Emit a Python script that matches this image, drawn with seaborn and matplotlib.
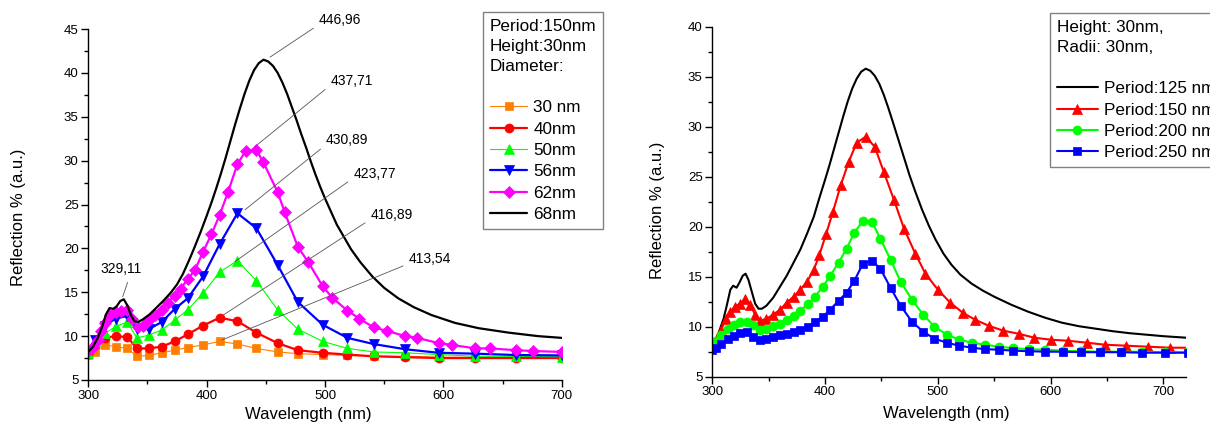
import seaborn as sns
import matplotlib.pyplot as plt
from matplotlib.ticker import MultipleLocator

# ---- left panel: Period 150nm, Height 30nm, varying diameter ----
wl_grid = [300, 306, 314, 323, 333, 341, 351, 362, 373, 384, 397, 411, 426, 442,
           460, 477, 498, 519, 541, 568, 596, 627, 661, 700]
r_30nm = [7.9, 8.2, 9.0, 8.8, 8.6, 7.7, 7.8, 8.1, 8.4, 8.7, 9.0, 9.4, 9.1, 8.6,
          8.2, 8.0, 7.9, 7.8, 7.7, 7.7, 7.6, 7.6, 7.6, 7.6]
r_40nm = [8.0, 9.0, 9.8, 10.0, 9.9, 8.6, 8.6, 8.8, 9.4, 10.2, 11.2, 12.1, 11.7, 10.4,
          9.2, 8.4, 8.1, 7.9, 7.7, 7.6, 7.5, 7.5, 7.5, 7.5]
r_50nm = [8.1, 9.4, 10.3, 11.1, 11.6, 9.8, 10.1, 10.7, 11.8, 13.0, 14.9, 17.3, 18.6, 16.3,
          13.0, 10.8, 9.4, 8.6, 8.2, 8.1, 7.9, 7.7, 7.7, 7.65]
r_56nm = [8.3, 9.6, 11.2, 12.0, 12.3, 10.8, 10.8, 11.6, 13.1, 14.3, 16.8, 20.5, 24.0, 22.3,
          18.1, 13.9, 11.3, 9.8, 9.1, 8.5, 8.1, 8.0, 7.85, 7.8]

wl_62nm = [300, 304, 308, 311, 314, 318, 323, 328, 333, 337, 342, 346, 351, 356, 362,
           367, 373, 378, 384, 390, 397, 404, 411, 418, 426, 433, 442, 448, 460, 466,
           477, 486, 498, 506, 519, 529, 541, 552, 568, 578, 596, 607, 627, 639, 661,
           676, 700]
r_62nm = [8.3, 8.8, 9.6, 10.6, 11.5, 12.4, 12.7, 12.9, 13.0, 12.0, 11.0, 11.1, 11.8, 12.4, 13.0,
          13.8, 14.6, 15.4, 16.5, 17.5, 19.6, 21.6, 23.8, 26.4, 29.6, 31.1, 31.2, 29.8, 26.4, 24.1,
          20.2, 18.4, 15.7, 14.4, 12.9, 12.0, 11.0, 10.6, 10.0, 9.8, 9.2, 9.0, 8.6, 8.6, 8.4,
          8.3, 8.2]

wl_68nm = [300, 304, 308, 312, 315, 318, 321, 324, 327, 330, 333, 336, 339, 342, 346,
           352, 358, 364, 370, 375, 380, 385, 390, 395, 400, 404, 408, 412, 416, 420,
           424, 428, 432, 436, 440, 444, 448, 452, 456, 460, 464, 468, 472, 476, 480,
           484, 488, 492, 496, 500, 505, 510, 516, 522, 530, 540, 550, 562, 575, 590,
           610, 630, 655, 680, 700]
r_68nm = [8.2, 8.8, 9.8, 11.2, 12.5, 13.2, 13.1, 13.4, 14.0, 14.2, 13.5, 12.4, 11.7, 11.6, 11.9,
          12.5, 13.3, 14.1, 15.0, 15.9, 17.1, 18.6, 20.2, 21.9, 23.7, 25.2, 26.8, 28.5, 30.3, 32.2,
          34.1, 35.9, 37.6, 39.1, 40.3, 41.1, 41.5, 41.3, 40.8, 40.0, 38.9, 37.6, 36.1, 34.6, 33.0,
          31.5, 29.9, 28.4, 27.0, 25.7, 24.2, 22.7, 21.3, 19.9, 18.4, 16.8, 15.5, 14.3, 13.3, 12.4,
          11.5, 10.9, 10.4, 10.0, 9.8]

peak_labels = ["446,96", "437,71", "430,89", "423,77", "416,89", "413,54", "329,11"]

# ---- right panel: Height 30nm, Radii 30nm, varying period ----
wl_125 = [300, 303, 306, 310, 313, 316, 318.5, 321.5, 324, 327, 329.5, 332, 335, 338, 341,
          344, 348, 354, 360, 366, 372, 378, 384, 390, 395, 400, 404, 408, 412, 416,
          420, 424, 428, 432, 436, 440, 444, 448, 452, 456, 460, 465, 470, 475, 480,
          486, 492, 498, 505, 512, 520, 530, 540, 550, 565, 580, 595, 610, 625, 640,
          655, 670, 685, 700, 720]
r_125 = [7.9, 8.6, 9.5, 10.8, 12.2, 13.7, 14.1, 13.9, 14.4, 15.1, 15.3, 14.7, 13.5, 12.3, 11.8,
         11.8, 12.1, 12.9, 14.0, 15.1, 16.4, 17.7, 19.3, 21.0, 22.9, 24.7, 26.2, 27.8, 29.4, 31.0,
         32.5, 33.8, 34.8, 35.5, 35.8, 35.6, 35.1, 34.3, 33.2, 31.9, 30.5, 28.7, 26.9, 25.1, 23.5,
         21.7, 20.1, 18.7, 17.3, 16.2, 15.2, 14.3, 13.6, 13.0, 12.2, 11.5, 10.9, 10.4, 10.05, 9.8,
         9.55, 9.35, 9.2, 9.05, 8.9]

wl_150 = [300, 304, 308, 312, 316, 320, 324.5, 329, 333.5, 338, 342.5, 348, 354, 360, 366,
          372, 378, 384, 390, 395, 401, 407, 414, 421, 428, 436, 444, 452, 461, 470,
          480, 489, 500, 511, 522, 533, 545, 558, 571.5, 585.5, 600, 615, 632, 648, 667,
          686, 706, 726]
r_150 = [8.3, 8.9, 9.7, 10.8, 11.5, 12.0, 12.3, 12.8, 12.2, 11.2, 10.6, 10.8, 11.2, 11.7, 12.4,
         13.0, 13.7, 14.5, 15.7, 17.2, 19.3, 21.5, 24.2, 26.5, 28.4, 29.0, 28.0, 25.5, 22.7, 19.8,
         17.3, 15.3, 13.7, 12.4, 11.4, 10.7, 10.1, 9.6, 9.3, 8.9, 8.7, 8.6, 8.4, 8.2, 8.1,
         8.0, 7.9, 7.9]

wl_grid2 = [300, 303, 308, 314, 319, 324.5, 330.5, 336.5, 342, 348, 354, 360, 366, 372, 378,
            385, 391, 398, 404.5, 412, 419, 426, 433.5, 441.5, 449, 458, 467, 477, 487, 497,
            508, 519, 530, 542, 554, 567, 580.5, 595, 611, 627, 644, 662, 681, 701, 722]
r_200 = [8.2, 8.6, 9.2, 9.8, 10.2, 10.5, 10.5, 10.2, 9.7, 9.8, 10.1, 10.3, 10.7, 11.1, 11.6,
         12.3, 13.0, 14.0, 15.1, 16.4, 17.8, 19.4, 20.6, 20.5, 18.8, 16.7, 14.5, 12.7, 11.2, 10.0,
         9.2, 8.7, 8.4, 8.2, 8.0, 7.85, 7.75, 7.7, 7.6, 7.55, 7.5, 7.5, 7.5, 7.45, 7.45]
r_250 = [7.7, 7.9, 8.3, 8.8, 9.1, 9.4, 9.5, 9.0, 8.7, 8.8, 9.0, 9.2, 9.3, 9.45, 9.7,
         10.0, 10.5, 11.0, 11.7, 12.6, 13.4, 14.6, 16.3, 16.6, 15.8, 13.9, 12.1, 10.5, 9.5, 8.8,
         8.4, 8.1, 7.9, 7.75, 7.7, 7.6, 7.55, 7.5, 7.5, 7.45, 7.45, 7.45, 7.4, 7.4, 7.4]


sns.set_theme(style="ticks", rc={"axes.edgecolor": "black", "text.color": "black",
                                 "axes.labelcolor": "black", "xtick.color": "black",
                                 "ytick.color": "black", "axes.linewidth": 1.0})
plt.rcParams["font.family"] = ["Liberation Sans", "DejaVu Sans"]

W, H = 1210, 432
fig = plt.figure(figsize=(W / 100, H / 100), dpi=100)
ax1 = fig.add_axes([88.3 / W, 1 - 380 / H, 473.4 / W, 351 / H])
ax2 = fig.add_axes([712.3 / W, 1 - 376.7 / H, 473.7 / W, 350 / H])


def draw(ax, label, x, y, color, marker=None, ms=6, lw=1.5):
    kw = dict(color=color, lw=lw, label=label, errorbar=None, sort=False)
    if marker:
        kw.update(marker=marker, markersize=ms, markeredgecolor=color, markeredgewidth=0.5)
    sns.lineplot(x=x, y=y, ax=ax, **kw)


draw(ax1, "30 nm", wl_grid, r_30nm, "#FF8000", "s", 5.5, 0.8)
draw(ax1, "40nm", wl_grid, r_40nm, "#FF0000", "o", 6.5, 1.6)
draw(ax1, "50nm", wl_grid, r_50nm, "#00FF00", "^", 7, 0.8)
draw(ax1, "56nm", wl_grid, r_56nm, "#0000FF", "v", 7, 1.6)
draw(ax1, "62nm", wl_62nm, r_62nm, "#FF00FF", "D", 6, 1.6)
draw(ax1, "68nm", wl_68nm, r_68nm, "black", None, lw=1.6)

draw(ax2, "Period:125 nm", wl_125, r_125, "black", None, lw=1.5)
draw(ax2, "Period:150 nm", wl_150, r_150, "#FF0000", "^", 7, 1.5)
draw(ax2, "Period:200 nm", wl_grid2, r_200, "#00FF00", "o", 6.5, 1.5)
draw(ax2, "Period:250 nm", wl_grid2, r_250, "#0000FF", "s", 5.5, 1.5)

# peak annotations (layout: peak point, text position, attach point on text)
annots = [
    ((453.6, 41.8), (495.0, 46.0), (0.0, 0.2)),
    ((440.9, 31.6), (504.8, 39.1), (0.0, 0.2)),
    ((432.4, 24.4), (500.9, 32.3), (0.0, 0.2)),
    ((424.0, 18.5), (524.0, 28.5), (0.0, 0.2)),
    ((414.0, 12.4), (538.6, 23.8), (0.0, 0.2)),
    ((412.8, 9.55), (571.0, 18.75), (0.0, 0.2)),
    ((329.1, 14.5), (310.5, 17.6), (0.7, 0.0)),
]
for text, (xy, xyt, rel) in zip(peak_labels, annots):
    ax1.annotate(text, xy=xy, xytext=xyt, ha="left", va="center", fontsize=10,
                 annotation_clip=False,
                 arrowprops=dict(arrowstyle="-", color="#555555", lw=0.6,
                                 relpos=rel, shrinkA=2, shrinkB=0))

for ax, ymax, xmax in [(ax1, 45, 700), (ax2, 40, 720)]:
    ax.set_xlim(300, xmax)
    ax.set_ylim(5, ymax)
    ax.xaxis.set_major_locator(MultipleLocator(100))
    ax.xaxis.set_minor_locator(MultipleLocator(50))
    ax.yaxis.set_major_locator(MultipleLocator(5))
    ax.yaxis.set_minor_locator(MultipleLocator(2.5))
    ax.tick_params(which="major", length=5, width=1, labelsize=9.5, pad=2)
    ax.tick_params(which="minor", length=3, width=1)
    ax.set_xlabel("Wavelength (nm)", fontsize=12)
    ax.set_ylabel("Reflection % (a.u.)", fontsize=12)
    sns.despine(ax=ax)

ax1.xaxis.set_label_coords(0.465, -0.077)
ax1.yaxis.set_label_coords(-0.132, 0.464)
ax2.xaxis.set_label_coords(0.495, -0.084)
ax2.yaxis.set_label_coords(-0.10, 0.476)

leg_kw = dict(loc="upper left", bbox_transform=fig.transFigure, alignment="left",
              frameon=True, fancybox=False, edgecolor="#808080", framealpha=1,
              fontsize=12.3, title_fontsize=12.3, handletextpad=0.35,
              labelspacing=0.37, borderpad=0.4, borderaxespad=0)

h, l = ax1.get_legend_handles_labels()
leg1 = ax1.legend(h, l, title="Period:150nm\nHeight:30nm\nDiameter:\n",
                  bbox_to_anchor=(483 / W, 1 - 12 / H), handlelength=2.2, **leg_kw)
h, l = ax2.get_legend_handles_labels()
leg2 = ax2.legend(h, l, title="Height: 30nm,\nRadii: 30nm,\n",
                  bbox_to_anchor=(1050 / W, 1 - 13 / H), handlelength=2.4, **leg_kw)
for leg in (leg1, leg2):
    leg.get_frame().set_linewidth(1.0)
    leg.get_title().set_linespacing(1.42)

plt.savefig("out.png", dpi=100)
